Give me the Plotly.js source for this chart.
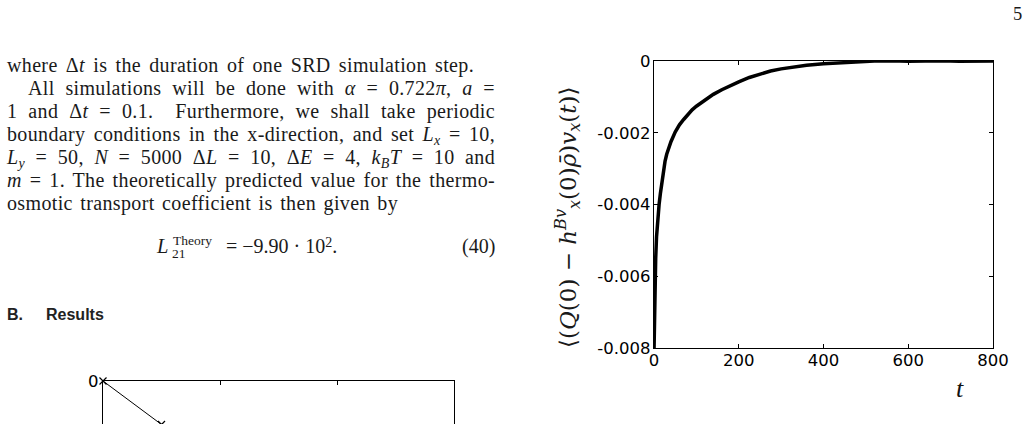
<!DOCTYPE html>
<html>
<head>
<meta charset="utf-8">
<script src="https://cdn.plot.ly/plotly-3.0.1.min.js"></script>
<style>
  html, body { margin:0; padding:0; width:1029px; height:424px; overflow:hidden; background:#fff; }
  #plot { position:absolute; left:0; top:0; width:1029px; height:700px; }
  .t { position:absolute; font-family:"Liberation Serif", "DejaVu Serif", serif; font-size:19px; line-height:1; color:#1a1a1a; white-space:nowrap; }
  .j { text-align:justify; text-align-last:justify; white-space:normal; letter-spacing:0.35px; }
  .sb { font-size:0.7em; position:relative; top:0.28em; }
  .sp { font-size:0.7em; position:relative; top:-0.45em; }
  .hd { font-family:"Liberation Sans", Arial, sans-serif; font-weight:bold; font-size:16px; color:#222; }
</style>
</head>
<body>
<div id="plot"></div>
<div id="txt"></div>
<script>
// ---- data ----
const tValues = [0, 1, 2, 3, 4, 6, 8, 10, 12, 15, 18, 22, 26, 30, 35, 40, 50, 60, 70, 80, 90, 100,
  120, 140, 160, 180, 200, 225, 250, 275, 300, 330, 360, 400, 440, 480, 520, 560, 600, 640, 680, 720, 760, 800];
const corrValues = [-0.0081, -0.0072, -0.0064, -0.0059, -0.0055, -0.0049, -0.0045, -0.0042, -0.0040, -0.0037,
  -0.0034, -0.0030, -0.0028, -0.0026, -0.0024, -0.00225, -0.00198, -0.00178, -0.00163, -0.00149, -0.00136,
  -0.00126, -0.00109, -0.00093, -0.00080, -0.00068, -0.00058, -0.00046, -0.00036, -0.00028, -0.00022,
  -0.00017, -0.00012, -0.00008, -0.00005, -0.00002, 0.0, 0.00001, -0.00001, 0.0, 0.00001, -0.00001, 0.0, 0.0];
const xTickVals = [0, 200, 400, 600, 800];
const xTickText = ['0', '200', '400', '600', '800'];
const yTickVals = [0, -0.002, -0.004, -0.006, -0.008];
const yTickText = ['0', '-0.002', '-0.004', '-0.006', '-0.008'];

// second (partially visible) figure at the bottom left
const x2Values = [0, 0.5, 1.0];
const y2Values = [0, -0.15, -0.28];
const x2TickVals = [0, 1, 2, 3];
const y2TickVals = [0];
const y2TickText = ['0'];

// ---- layout helpers (pixel -> paper) ----
const W = 1029, H = 700;
const dx = (a, b) => [a / W, b / W];
const dy = (top, bottom) => [1 - bottom / H, 1 - top / H];

const tickFont = { family: 'DejaVu Sans, sans-serif', size: 16.5, color: '#000' };
const axisCommon = {
  showline: true, linecolor: '#000', linewidth: 1.2, mirror: 'ticks',
  ticks: 'inside', ticklen: 4, tickwidth: 1, tickcolor: '#000',
  showgrid: false, zeroline: false, tickfont: tickFont, fixedrange: true
};

const traces = [
  { x: tValues, y: corrValues, type: 'scatter', mode: 'lines',
    line: { color: '#000', width: 3.5 }, xaxis: 'x', yaxis: 'y', hoverinfo: 'skip' },
  { x: x2Values, y: y2Values, type: 'scatter', mode: 'lines+markers',
    line: { color: '#000', width: 1 }, marker: { symbol: 'x-thin', size: 7, line: { color: '#000', width: 1.2 } },
    cliponaxis: false, xaxis: 'x2', yaxis: 'y2', hoverinfo: 'skip' }
];

const layout = {
  width: W, height: H, margin: { l: 0, r: 0, t: 0, b: 0 },
  paper_bgcolor: 'rgba(0,0,0,0)', plot_bgcolor: '#fff', showlegend: false,
  xaxis: Object.assign({}, axisCommon, { domain: dx(654, 993), range: [0, 800], tickvals: xTickVals, ticktext: xTickText, anchor: 'y', ticklabelstandoff: -3 }),
  yaxis: Object.assign({}, axisCommon, { domain: dy(61, 348), range: [-0.008, 0], tickvals: yTickVals, ticktext: yTickText, anchor: 'x', ticklabelstandoff: -1 }),
  xaxis2: Object.assign({}, axisCommon, { domain: dx(103, 454), range: [0, 3], tickvals: x2TickVals, showticklabels: false, anchor: 'y2' }),
  yaxis2: Object.assign({}, axisCommon, { domain: dy(381, 671), range: [-1, 0], tickvals: y2TickVals, ticktext: y2TickText, anchor: 'x2', ticklabelstandoff: 0 }),
  annotations: [
    { xref: 'paper', yref: 'paper', x: 567 / W, y: 1 - 217 / H, xanchor: 'center', yanchor: 'middle', textangle: -90, showarrow: false,
      font: { family: 'DejaVu Serif, serif', size: 23, color: '#1a1a1a' },
      text: '⟨(<i>Q</i>(0) − <i>h</i><sup><i>Bv</i></sup><sub><i>x</i></sub>(0)<i>ρ̄</i>)<i>v</i><sub><i>x</i></sub>(<i>t</i>)⟩' },
    { xref: 'paper', yref: 'paper', x: 960 / W, y: 1 - 388 / H, xanchor: 'center', yanchor: 'middle', showarrow: false,
      font: { family: 'Liberation Serif, serif', size: 26, color: '#111' }, text: '<i>t</i>' }
  ]
};

Plotly.newPlot('plot', traces, layout, { staticPlot: true, displayModeBar: false });

// ---- page text around the figure ----
const K = 0.8375; // baseline offset (Liberation Serif, line-height 1)
function put(html, x, base, size, cls, width) {
  const d = document.createElement('div');
  d.className = 't ' + (cls || '');
  d.style.left = x + 'px';
  d.style.fontSize = size + 'px';
  d.style.top = (base - K * size) + 'px';
  if (width) d.style.width = width + 'px';
  d.innerHTML = html;
  document.getElementById('txt').appendChild(d);
}
const lines = [
  [7, 467, 'where Δ<i>t</i> is the duration of one SRD simulation step.'],
  [28, 467, 'All simulations will be done with <i>α</i> = 0.722<i>π</i>, <i>a</i> ='],
  [7, 488, '1 and Δ<i>t</i> = 0.1.&nbsp; Furthermore, we shall take periodic'],
  [7, 488, 'boundary conditions in the x-direction, and set <i>L<span class="sb">x</span></i> = 10,'],
  [7, 488, '<i>L<span class="sb">y</span></i> = 50, <i>N</i> = 5000 Δ<i>L</i> = 10, Δ<i>E</i> = 4, <i>k<span class="sb">B</span>T</i> = 10 and'],
  [7, 488, '<i>m</i> = 1. The theoretically predicted value for the thermo-'],
  [7, 391, 'osmotic transport coefficient is then given by']
];
lines.forEach((l, i) => put(l[2], l[0], 71.5 + 23 * i, 20, 'j', l[1]));

put('<i>L</i>', 157, 253, 20.5);
put('Theory', 173, 245, 13.5);
put('21', 172, 258.5, 13.5);
put('= −9.90 · 10<span class="sp">2</span>.', 226, 253, 20);
put('(40)', 462, 253, 20);
put('5', 1013, 20.5, 18.5);

const h = document.createElement('div');
h.className = 'hd';
h.style.cssText = 'position:absolute;left:7px;top:' + (320.5 - 0.8465 * 16) + 'px;line-height:1;white-space:nowrap;';
h.innerHTML = 'B.<span style="position:absolute;left:39px;">Results</span>';
document.getElementById('txt').appendChild(h);
</script>
</body>
</html>
